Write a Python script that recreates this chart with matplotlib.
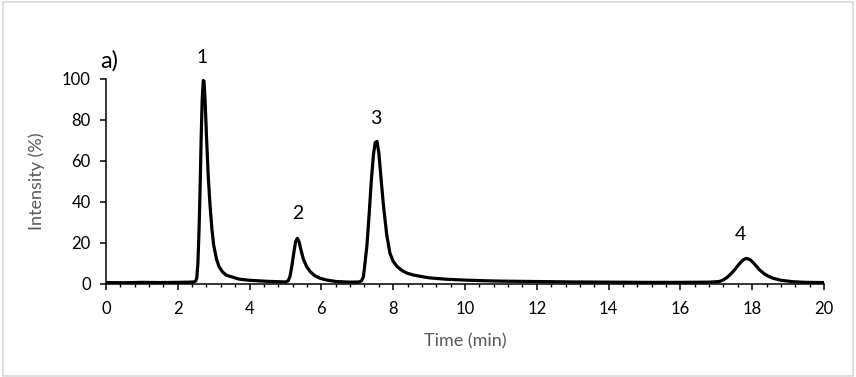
import matplotlib.pyplot as plt
from matplotlib.patches import Rectangle
from matplotlib.ticker import MultipleLocator

plt.rcParams['font.family'] = ['Lato', 'DejaVu Sans']

# chromatogram trace: time (min) and intensity (%)
time_min = [0.0, 0.5, 1.0, 1.5, 2.0, 2.3, 2.45, 2.50, 2.53, 2.56, 2.59, 2.62, 2.65,
            2.68, 2.71, 2.73, 2.76, 2.80, 2.85, 2.90, 2.95, 3.00, 3.08, 3.15, 3.25,
            3.35, 3.5, 3.7, 4.0, 4.5, 5.0,
            5.08, 5.13, 5.18, 5.23, 5.28, 5.33, 5.38, 5.44, 5.50, 5.59, 5.70, 5.82,
            5.96, 6.15, 6.42, 6.8, 7.05,
            7.12, 7.17, 7.22, 7.27, 7.33, 7.39, 7.45, 7.50, 7.55, 7.60, 7.66, 7.72,
            7.75, 7.82, 7.91, 8.0, 8.11, 8.25, 8.4, 8.56, 8.8, 9.0, 9.5, 10.0, 10.5,
            11.0, 12.0, 13.0, 14.0, 15.0, 16.0, 16.8,
            17.0, 17.1, 17.2, 17.3, 17.4, 17.47, 17.55, 17.65, 17.75, 17.84, 17.95,
            18.05, 18.21, 18.35, 18.45, 18.58, 18.8, 19.14, 19.5, 20.0]
intensity = [0.7, 0.6, 0.8, 0.7, 0.8, 0.9, 1.0, 1.5, 3.0, 10, 25, 45, 70,
             90, 99.3, 99.0, 90, 72, 52, 38, 27, 19, 12, 8.5, 5.8,
             4.3, 3.5, 2.4, 1.8, 1.3, 1.0,
             1.6, 4.0, 9.0, 15, 20.5, 22.3, 20.5, 16, 12, 8.5, 5.8, 4.0,
             2.8, 1.9, 1.2, 0.9, 1.0,
             1.6, 3.5, 11, 19, 34, 50, 63, 69, 69.5, 64, 52, 40,
             35, 24, 15, 11, 8.5, 6.5, 5.2, 4.4, 3.6, 3.0, 2.3, 1.9, 1.6,
             1.4, 1.2, 1.0, 0.9, 0.8, 0.8, 0.9,
             1.1, 1.3, 2.0, 3.2, 4.8, 6.1, 7.8, 10, 11.8, 12.5, 11.8,
             10, 6.8, 4.8, 3.8, 2.8, 1.8, 1.1, 0.8, 0.7]

peak_labels = ['1', '2', '3', '4']
peak_label_x = [2.69, 5.35, 7.52, 17.68]
peak_label_y = [110.7, 34.4, 80.7, 23.9]

fig = plt.figure(figsize=(8.56, 3.77), dpi=100)
fig.patches.append(Rectangle((0.003, 0.003), 0.994, 0.992, transform=fig.transFigure,
                             fill=False, edgecolor='#d9d9d9', lw=1.2))
ax = fig.add_axes([0.1238, 0.2467, 0.8388, 0.5438])

ax.plot(time_min, intensity, color='black', lw=2.3, solid_joinstyle='round')

ax.set_xlim(0, 20)
ax.set_ylim(0, 100)
ax.xaxis.set_major_locator(MultipleLocator(2))
ax.xaxis.set_minor_locator(MultipleLocator(0.4))
ax.yaxis.set_major_locator(MultipleLocator(20))

for s in ['top', 'right']:
    ax.spines[s].set_visible(False)
for s in ['left', 'bottom']:
    ax.spines[s].set_linewidth(1.1)
    ax.spines[s].set_color('black')

ax.tick_params(axis='both', which='major', length=4, width=1.1, labelsize=12, colors='black', pad=7)
ax.tick_params(axis='x', which='minor', length=2.5, width=1.0, color='black')
ax.tick_params(axis='x', which='major', pad=8)

ax.set_xlabel('Time (min)', fontsize=13, color='#595959', labelpad=12)
ax.set_ylabel('Intensity (%)', fontsize=13, color='#595959', labelpad=12)

for lab, x, y in zip(peak_labels, peak_label_x, peak_label_y):
    ax.text(x, y, lab, ha='center', va='center', fontsize=14, clip_on=False)
ax.text(-0.17, 109, 'a)', ha='left', va='center', fontsize=17, clip_on=False)

fig.savefig('out.png', dpi=100)
